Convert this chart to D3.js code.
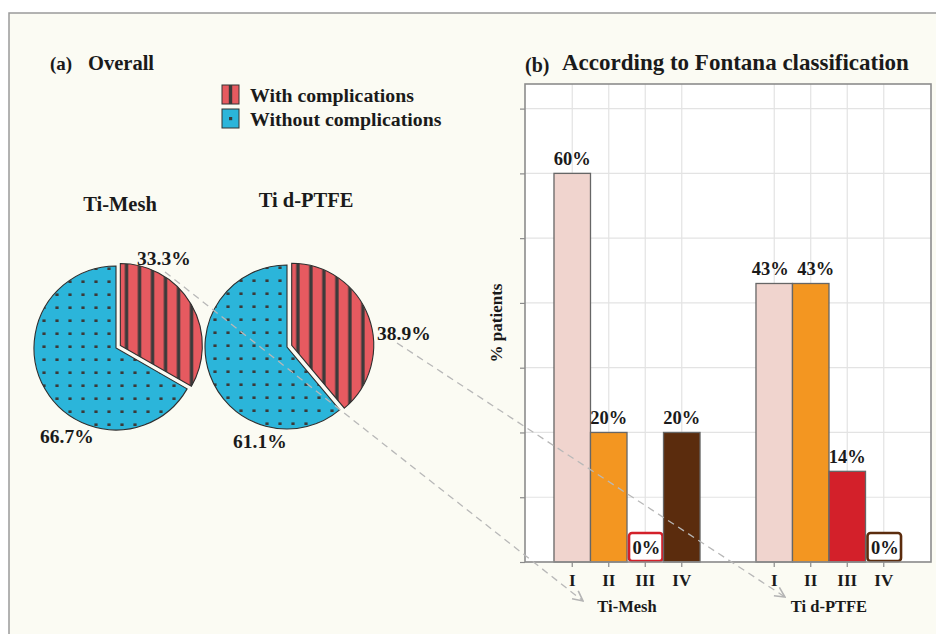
<!DOCTYPE html>
<html>
<head>
<meta charset="utf-8">
<script src="https://cdn.jsdelivr.net/npm/d3@7"></script>
<style>
  html, body { margin: 0; padding: 0; background: #ffffff; }
  svg { display: block; }
  text { font-family: "Liberation Serif", "Times New Roman", serif; font-weight: bold; fill: #1a1a1a; }
</style>
</head>
<body>
<svg id="fig" width="936" height="634"></svg>
<script>
// ---- data ----
const pieGroups = ["Ti-Mesh", "Ti d-PTFE"];
const statusLabels = ["With complications", "Without complications"];
const withComplications = [33.3, 38.9];
const withoutComplications = [66.7, 61.1];

const fontanaClasses = ["I", "II", "III", "IV"];
const tiMeshPct = [60, 20, 0, 20];
const tiPtfePct = [43, 43, 14, 0];
const yTicks = [0, 10, 20, 30, 40, 50, 60, 70];

// ---- styling ----
const statusColors = ["#e65a60", "#2bb5da"];
const classColors = ["#f0d4ce", "#f39621", "#d3202a", "#5b2c0d"];
const ink = "#3a3a3a";

const svg = d3.select("#fig");
const defs = svg.append("defs");

// stripe fill for "with complications"
const stripe = defs.append("pattern").attr("id", "stripes")
  .attr("patternUnits", "userSpaceOnUse").attr("width", 13).attr("height", 13);
stripe.append("rect").attr("width", 13).attr("height", 13).attr("fill", statusColors[0]);
stripe.append("rect").attr("x", 4.5).attr("width", 3.4).attr("height", 13).attr("fill", ink);

// dotted fill for "without complications"
const dots = defs.append("pattern").attr("id", "dots")
  .attr("patternUnits", "userSpaceOnUse").attr("width", 13).attr("height", 13);
dots.append("rect").attr("width", 13).attr("height", 13).attr("fill", statusColors[1]);
dots.append("rect").attr("x", 4.4).attr("y", 10.4).attr("width", 3.2).attr("height", 3.2).attr("fill", ink);

// arrowhead for the connector lines
defs.append("marker").attr("id", "arrow")
  .attr("viewBox", "0 0 12 12").attr("refX", 11).attr("refY", 6)
  .attr("markerWidth", 12).attr("markerHeight", 12).attr("markerUnits", "userSpaceOnUse")
  .attr("orient", "auto")
  .append("path").attr("d", "M1,1 L11,6 L1,11").attr("fill", "none")
  .attr("stroke", "#b4b4b4").attr("stroke-width", 1.6);

// ---- frame ----
svg.append("rect").attr("x", 9).attr("y", 13).attr("width", 940).attr("height", 640)
  .attr("fill", "#fbfbf3").attr("stroke", "#9a9a9a").attr("stroke-width", 1.5);

// ================= (a) Overall =================
svg.append("text").attr("x", 50).attr("y", 70).attr("font-size", 19).text("(a)");
svg.append("text").attr("x", 88).attr("y", 70).attr("font-size", 20.5).text("Overall");

// legend
const legend = svg.append("g").attr("transform", "translate(222,85)");
statusLabels.forEach((lab, i) => {
  const g = legend.append("g").attr("transform", `translate(0,${i * 24})`);
  g.append("rect").attr("width", 17).attr("height", 19)
    .attr("fill", statusColors[i]).attr("stroke", "#333").attr("stroke-width", 1);
  if (i === 0) {
    g.append("rect").attr("x", 6.8).attr("width", 3.4).attr("height", 19).attr("fill", ink);
  } else {
    g.append("rect").attr("x", 7).attr("y", 8).attr("width", 3.2).attr("height", 3.2).attr("fill", ink);
  }
  g.append("text").attr("x", 28).attr("y", 17).attr("font-size", 19.8).text(lab);
});

// pies
const pieR = 82;
const explode = 5;
const pieCenters = [[116, 348], [287, 347]];
const pieTitleX = [120, 306];
const pieTitleY = [211, 207];
// label anchor offsets (dx, dy from pie centre): [with, without]
const pieLabelSpots = [
  [[21, -83], [-76, 95]],
  [[90, -7], [-54, 101]]
];

const pie = d3.pie().sort(null).startAngle(0).endAngle(2 * Math.PI);
const arc = d3.arc().innerRadius(0).outerRadius(pieR);
const fills = ["url(#stripes)", "url(#dots)"];
const pieLabelPos = [];

pieGroups.forEach((name, gi) => {
  const [cx, cy] = pieCenters[gi];
  const slices = pie([withComplications[gi], withoutComplications[gi]]);
  const g = svg.append("g");
  // draw the blue slice first, then the exploded red slice
  [1, 0].forEach(si => {
    const s = slices[si];
    const mid = (s.startAngle + s.endAngle) / 2;
    const off = si === 0 ? explode : 0;
    const ox = cx + off * Math.sin(mid), oy = cy - off * Math.cos(mid);
    g.append("g").attr("transform", `translate(${ox},${oy})`)
      .append("path").attr("d", arc(s))
      .attr("fill", fills[si]).attr("stroke", "#2e2e2e").attr("stroke-width", 1.1);
  });
  svg.append("text").attr("x", pieTitleX[gi]).attr("y", pieTitleY[gi])
    .attr("text-anchor", "middle").attr("font-size", 20.5).text(name);
  const vals = [withComplications[gi], withoutComplications[gi]];
  pieLabelPos.push([]);
  vals.forEach((v, si) => {
    const [dx, dy] = pieLabelSpots[gi][si];
    const x = cx + dx, y = cy + dy;
    pieLabelPos[gi].push([x, y]);
    svg.append("text").attr("x", x).attr("y", y).attr("font-size", 19.5)
      .text(v.toFixed(1) + "%");
  });
});

// ================= (b) Fontana classification =================
const panel = { left: 525, right: 931, top: 84, bottom: 562 };
const seriesByGroup = [tiMeshPct, tiPtfePct];

const xGroup = d3.scaleBand().domain(pieGroups)
  .range([panel.left, panel.right]).paddingInner(0.277).paddingOuter(0.1435);
const xClass = d3.scaleBand().domain(fontanaClasses).range([0, xGroup.bandwidth()]).padding(0);
const y = d3.scaleLinear().domain([0, 73.8]).range([panel.bottom, panel.top]);

svg.append("text").attr("x", 525).attr("y", 72).attr("font-size", 20).text("(b)");
svg.append("text").attr("x", 562).attr("y", 70).attr("font-size", 23).text("According to Fontana classification");

// panel background
svg.append("rect").attr("x", panel.left).attr("y", panel.top)
  .attr("width", panel.right - panel.left).attr("height", panel.bottom - panel.top)
  .attr("fill", "#ffffff");

// grid
const grid = svg.append("g").attr("stroke", "#e3e3e3").attr("stroke-width", 1.2);
yTicks.forEach(t => {
  grid.append("line").attr("x1", panel.left).attr("x2", panel.right)
    .attr("y1", y(t)).attr("y2", y(t));
});
pieGroups.forEach(gname => {
  fontanaClasses.forEach(c => {
    const xc = xGroup(gname) + xClass(c) + xClass.bandwidth() / 2;
    grid.append("line").attr("x1", xc).attr("x2", xc).attr("y1", panel.top).attr("y2", panel.bottom);
  });
});

// y axis ticks (no labels)
const yAxis = d3.axisLeft(y).tickValues(yTicks).tickSize(5).tickFormat("");
const yg = svg.append("g").attr("transform", `translate(${panel.left},0)`).call(yAxis);
yg.select(".domain").remove();
yg.selectAll(".tick line").attr("stroke", "#8a8a8a").attr("stroke-width", 1.2);

// bars; labels of equal neighbouring bars are nudged apart
pieGroups.forEach((gname, gi) => {
  const vals = seriesByGroup[gi];
  const g = svg.append("g").attr("transform", `translate(${xGroup(gname)},0)`);
  fontanaClasses.forEach((c, ci) => {
    const v = vals[ci];
    const x0 = xClass(c), w = xClass.bandwidth();
    let nudge = 0;
    if (ci > 0 && vals[ci - 1] === v) nudge += 5;
    if (ci < vals.length - 1 && vals[ci + 1] === v) nudge -= 4;
    if (v > 0) {
      g.append("rect").attr("x", x0).attr("y", y(v))
        .attr("width", w).attr("height", y(0) - y(v))
        .attr("fill", classColors[ci]).attr("stroke", "#666").attr("stroke-width", 1.3);
      g.append("text").attr("x", x0 + w / 2 + nudge).attr("y", y(v) - 8)
        .attr("text-anchor", "middle").attr("font-size", 18.5).text(v + "%");
    } else {
      g.append("rect").attr("x", x0 + 2).attr("y", y(0) - 29)
        .attr("width", w - 3).attr("height", 28).attr("rx", 3)
        .attr("fill", "#ffffff").attr("stroke", classColors[ci]).attr("stroke-width", 2.6);
      g.append("text").attr("x", x0 + w / 2 + 1).attr("y", y(0) - 8)
        .attr("text-anchor", "middle").attr("font-size", 18.5).text(v + "%");
    }
  });
});

// panel border
svg.append("rect").attr("x", panel.left).attr("y", panel.top)
  .attr("width", panel.right - panel.left).attr("height", panel.bottom - panel.top)
  .attr("fill", "none").attr("stroke", "#8c8c8c").attr("stroke-width", 1.6);

// x axis: class ticks and group names
pieGroups.forEach(gname => {
  const gx = xGroup(gname);
  fontanaClasses.forEach(c => {
    const xc = gx + xClass(c) + xClass.bandwidth() / 2;
    svg.append("line").attr("x1", xc).attr("x2", xc)
      .attr("y1", panel.bottom).attr("y2", panel.bottom + 5)
      .attr("stroke", "#8a8a8a").attr("stroke-width", 1.2);
    svg.append("text").attr("x", xc).attr("y", 586).attr("text-anchor", "middle")
      .attr("font-size", 17).text(c);
  });
  svg.append("text").attr("x", gx + xGroup.bandwidth() / 2).attr("y", 612)
    .attr("text-anchor", "middle").attr("font-size", 16.5).text(gname);
});

// y label
svg.append("text").attr("transform", "translate(502,323) rotate(-90)")
  .attr("text-anchor", "middle").attr("font-size", 17).text("% patients");

// dashed connectors from each pie's complication share to its bar group
const connStart = [[28, 7], [20, 3]];
pieGroups.forEach((gname, gi) => {
  const [lx, ly] = pieLabelPos[gi][0];
  const sx = lx + connStart[gi][0], sy = ly + connStart[gi][1];
  const ex = xGroup(gname) + xGroup.bandwidth() / 2 - 44;
  const ey = 601 - gi * 4;
  svg.append("line").attr("x1", sx).attr("y1", sy).attr("x2", ex).attr("y2", ey)
    .attr("stroke", "#b8b8b8").attr("stroke-width", 1.3)
    .attr("stroke-dasharray", "7,5").attr("marker-end", "url(#arrow)");
});
</script>
</body>
</html>
